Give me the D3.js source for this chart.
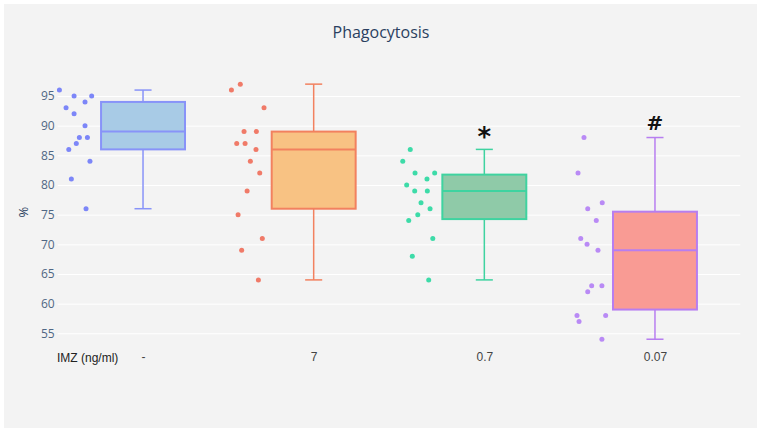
<!DOCTYPE html>
<html>
<head>
<meta charset="utf-8">
<script src="https://cdn.jsdelivr.net/npm/d3@7"></script>
<style>
  body { margin: 0; background: #fff; }
  svg { display: block; font-family: "Open Sans", sans-serif; }
</style>
</head>
<body>
<svg id="chart" width="762" height="433"></svg>
<script>
// categories and tick labels
const categories = ["-", "7", "0.7", "0.07"];
const yTicks = [55, 60, 65, 70, 75, 80, 85, 90, 95];
const marks = ["", "", "*", "#"];

// measured values per group
const ctrl = [96, 95, 95, 93, 94, 92, 90, 88, 88, 87, 86, 84, 81, 76];
const imz7 = [97, 96, 93, 89, 89, 87, 87, 86, 84, 82, 79, 75, 71, 69, 64];
const imz07 = [86, 84, 82, 82, 81, 80, 79, 79, 77, 76, 75, 74, 71, 68, 64];
const imz007 = [88, 82, 77, 76, 74, 71, 70, 69, 63, 63, 62, 58, 58, 57, 54];

// horizontal jitter of each point, in category units
const ctrlJit = [-0.49, -0.404, -0.301, -0.451, -0.34, -0.404, -0.34, -0.373, -0.326, -0.391, -0.435, -0.311, -0.42, -0.334];
const imz7Jit = [-0.43, -0.482, -0.291, -0.408, -0.336, -0.451, -0.402, -0.338, -0.371, -0.316, -0.39, -0.443, -0.301, -0.422, -0.324];
const imz07Jit = [-0.434, -0.478, -0.406, -0.291, -0.336, -0.455, -0.408, -0.334, -0.371, -0.318, -0.39, -0.443, -0.302, -0.422, -0.326];
const imz007Jit = [-0.416, -0.451, -0.309, -0.394, -0.344, -0.435, -0.398, -0.334, -0.371, -0.311, -0.394, -0.457, -0.289, -0.445, -0.311];

const series = [ctrl, imz7, imz07, imz007];
const jitters = [ctrlJit, imz7Jit, imz07Jit, imz007Jit];
const fills = ["#a8cbe6", "#f8c283", "#8fcaa8", "#f99b94"];
const lines = ["#8893f8", "#f2815f", "#3fd3a0", "#b77ef0"];
const dots = ["#7c86f8", "#f07a68", "#3ddba8", "#b98af5"];

const svg = d3.select("#chart");
const W = 762, H = 433;
const plot = { left: 57.7, right: 740.3 };

// background panel
svg.append("rect").attr("x", 4).attr("y", 4).attr("width", W - 9).attr("height", H - 9)
  .attr("fill", "#f3f3f3");

const x = d3.scaleLinear().domain([-0.5, 3.5]).range([plot.left, plot.right]);
const y = d3.scaleLinear().domain([95, 55]).range([96, 333.3]);

// quartiles like plotly's "linear" method: position n*p + 0.5 (1-based)
const quant = (sorted, p) => {
  const n = sorted.length;
  let pos = n * p + 0.5;
  pos = Math.max(1, Math.min(n, pos));
  const lo = Math.floor(pos), hi = Math.ceil(pos);
  return sorted[lo - 1] + (pos - lo) * (sorted[hi - 1] - sorted[lo - 1]);
};

const stats = series.map(vals => {
  const s = vals.slice().sort(d3.ascending);
  const q1 = quant(s, 0.25), med = quant(s, 0.5), q3 = quant(s, 0.75);
  const iqr = q3 - q1;
  const lo = d3.min(s.filter(v => v >= q1 - 1.5 * iqr));
  const hi = d3.max(s.filter(v => v <= q3 + 1.5 * iqr));
  return { q1, med, q3, lo, hi };
});

// y gridlines + labels
const yAxis = d3.axisLeft(y).tickValues(yTicks).tickSize(-(plot.right - plot.left)).tickPadding(3);
const gy = svg.append("g").attr("transform", "translate(" + plot.left + ",0)").call(yAxis);
gy.select(".domain").remove();
gy.selectAll(".tick line").attr("stroke", "#ffffff").attr("stroke-width", 1);
gy.selectAll(".tick text").attr("fill", "#506784").attr("font-size", 12)
  .attr("font-family", "Open Sans, sans-serif");

// x category labels
const xAxis = d3.axisBottom(x).tickValues(d3.range(categories.length))
  .tickFormat(i => categories[i]).tickSize(0).tickPadding(0);
const gx = svg.append("g").attr("transform", "translate(0,352)").call(xAxis);
gx.select(".domain").remove();
gx.selectAll(".tick text").attr("fill", "#444").attr("font-size", 12)
  .attr("font-family", "Liberation Sans, Arial, sans-serif");

svg.append("text").attr("x", 57).attr("y", 362).attr("font-size", 12)
  .attr("font-family", "Liberation Sans, Arial, sans-serif")
  .attr("fill", "#222").text("IMZ (ng/ml)");

// title and y title
svg.append("text").attr("x", 381).attr("y", 38).attr("text-anchor", "middle")
  .attr("font-size", 16).attr("fill", "#2a3f5f").text("Phagocytosis");
svg.append("text").attr("transform", "translate(28,212) rotate(-90)")
  .attr("text-anchor", "middle").attr("font-size", 13).attr("fill", "#2a3f5f").text("%");

const halfBox = 0.246, halfCap = 0.05;

const groups = svg.selectAll("g.box").data(stats).enter().append("g").attr("class", "box");

groups.each(function(d, i) {
  const g = d3.select(this);
  const cx = x(i);
  // whiskers
  g.append("line").attr("x1", cx).attr("x2", cx).attr("y1", y(d.hi)).attr("y2", y(d.q3))
    .attr("stroke", lines[i]).attr("stroke-width", 1.5);
  g.append("line").attr("x1", cx).attr("x2", cx).attr("y1", y(d.q1)).attr("y2", y(d.lo))
    .attr("stroke", lines[i]).attr("stroke-width", 1.5);
  [d.hi, d.lo].forEach(v => {
    g.append("line").attr("x1", x(i - halfCap)).attr("x2", x(i + halfCap))
      .attr("y1", y(v)).attr("y2", y(v)).attr("stroke", lines[i]).attr("stroke-width", 1.5);
  });
  // box
  g.append("rect").attr("x", x(i - halfBox)).attr("width", x(i + halfBox) - x(i - halfBox))
    .attr("y", y(d.q3)).attr("height", y(d.q1) - y(d.q3))
    .attr("fill", fills[i]).attr("stroke", lines[i]).attr("stroke-width", 2);
  g.append("line").attr("x1", x(i - halfBox)).attr("x2", x(i + halfBox))
    .attr("y1", y(d.med)).attr("y2", y(d.med)).attr("stroke", lines[i]).attr("stroke-width", 2);
  // points
  g.selectAll("circle").data(series[i]).enter().append("circle")
    .attr("cx", (v, k) => x(i + jitters[i][k]))
    .attr("cy", v => y(v))
    .attr("r", 2.5)
    .attr("fill", dots[i]);
  // significance marks
  if (marks[i]) {
    const star = marks[i] === "*";
    g.append("text").attr("x", cx).attr("y", y(d.hi) - (star ? 3 : 8))
      .attr("text-anchor", "middle").attr("font-size", star ? 26 : 20).attr("font-weight", "bold")
      .attr("fill", "#111").attr("font-family", "DejaVu Sans, sans-serif").text(marks[i]);
  }
});
</script>
</body>
</html>
